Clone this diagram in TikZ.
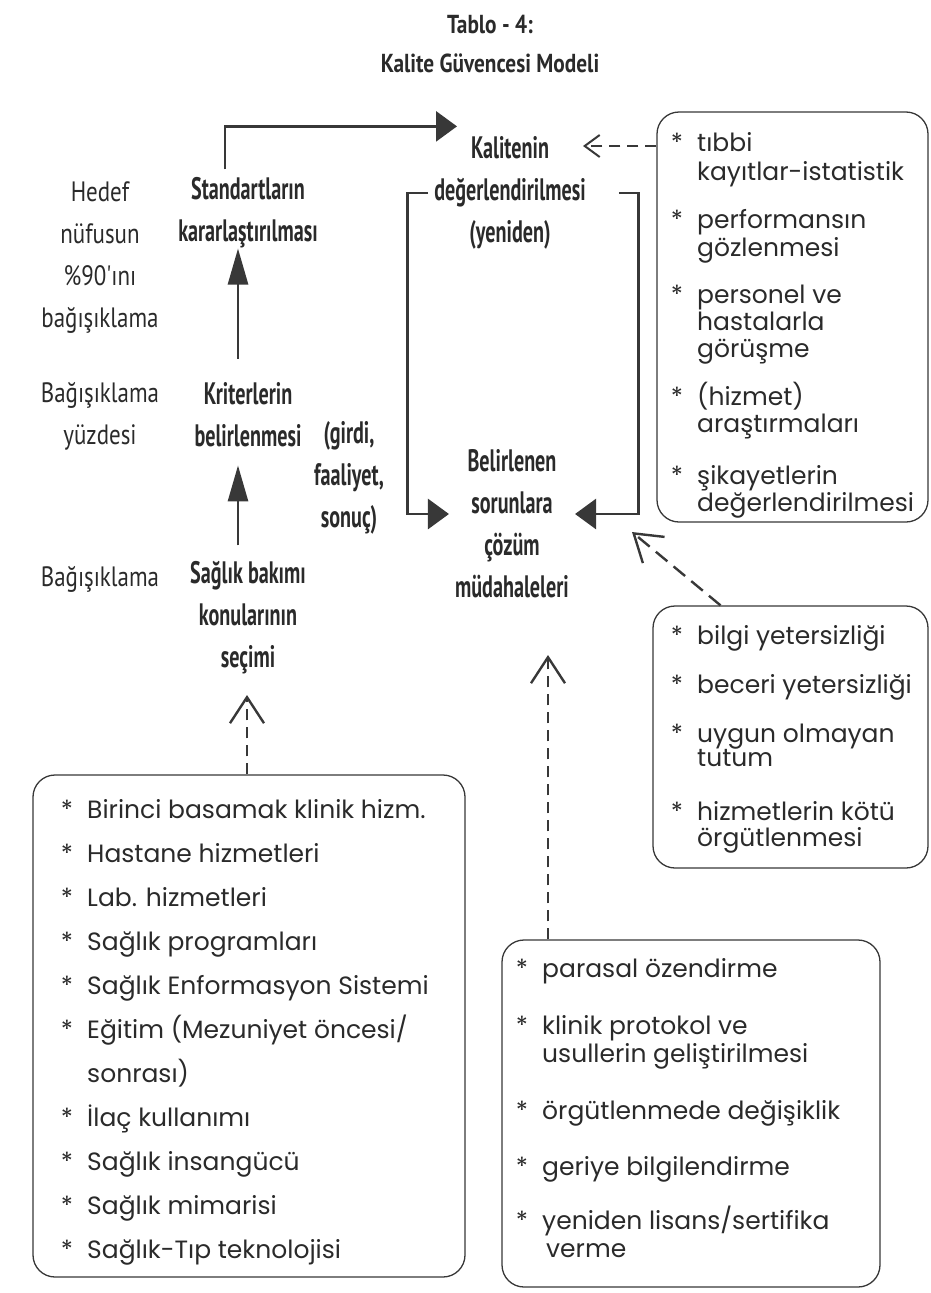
\documentclass[tikz,border=0pt]{standalone}
\usepackage{fontspec}
\setmainfont{Poppins}
\newfontfamily\condB[FakeStretch=0.65]{PT Sans}
\newfontfamily\condR[FakeStretch=0.82]{PT Sans}
\usetikzlibrary{arrows.meta}
\definecolor{ink}{HTML}{2A2A2A}
\definecolor{wire}{HTML}{383838}
\newcommand\fsT{\fontsize{26}{30}\selectfont}
\newcommand\fsM{\fontsize{31}{42}\selectfont}
\newcommand\fsS{\fontsize{28}{42}\selectfont}
\newcommand\fsL{\fontsize{25}{28}\selectfont}
% one list line with its asterisk, at a baseline
\newcommand\itm[4]{\node[ast] (#1a) at (#2-20,#3) {*}; \node[itm] (#1) at (#2,#3) {#4};}

\begin{document}
\begin{tikzpicture}[x=1pt,y=-1pt,
  title/.style={font=\fsT\condR\bfseries,text=ink,inner sep=0},
  lab/.style={align=center,font=\fsM\condB\bfseries,text=ink,inner xsep=6pt,inner ysep=8pt},
  side/.style={align=center,font=\fsS\condR,text=ink,inner sep=0},
  itm/.style={anchor=base west,font=\fsL,text=ink,inner sep=0},
  ast/.style={anchor=base,font=\fsL,text=ink,inner sep=0},
  box/.style={draw=wire,line width=1.3pt,rounded corners=22pt,inner sep=0},
  flowv/.style={draw=wire,line width=2.8pt,-{Triangle[length=36pt,width=20pt]}},
  flowh/.style={draw=wire,line width=2.8pt,-{Triangle[length=21pt,width=30pt]}},
  hint/.style={draw=wire,line width=2.4pt,dash pattern=on 11pt off 7pt,
    -{Straight Barb[length=26pt,width=34pt,line width=2.4pt]}},
  hintS/.style={hint,-{Straight Barb[length=15pt,width=22pt,line width=2pt]}}]
\useasboundingbox (0,0) rectangle (931,1293);
% ============ title ============
\node[title] (tab) at (490,25) {Tablo - 4:};
\node[title] (mod) at (490,63) {Kalite Güvencesi Modeli};
% ============ main flow ============
\node[lab] (std) at (248,213) {Standartların\\kararlaştırılması};
\node[lab] (krit) at (248,415) {Kriterlerin\\belirlenmesi};
\node[lab] (sec) at (248,618) {Sağlık bakımı\\konularının\\seçimi};
\node[lab] (kal) at (510,193) {Kalitenin\\değerlendirilmesi\\(yeniden)};
\node[lab] (bel) at (512,524) {Belirlenen\\sorunlara\\çözüm\\müdahaleleri};
\node[lab] (gir) at (349,478) {(girdi,\\faaliyet,\\sonuç)};
% left column
\node[side] (hed) at (100,258) {Hedef\\nüfusun\\\%90'ını\\bağışıklama};
\node[side] (yuz) at (100,416) {Bağışıklama\\yüzdesi};
\node[side] (bag) at (100,579) {Bağışıklama};
\draw[flowv,shorten <=8pt,shorten >=10pt] ([xshift=-10pt]sec.north) -- ([xshift=-10pt]krit.south);
\draw[flowv,shorten <=16pt,shorten >=-8pt] ([xshift=-10pt]krit.north) -- ([xshift=-10pt]std.south);
\draw[flowh] ([xshift=-23pt]std.north) |- ([xshift=-53pt,yshift=2pt]kal.north);
\draw[flowh] (kal.west) -- ++(-21,0) |- ([yshift=10pt]bel.west);
\draw[flowh] ([xshift=27pt]kal.east) -- ++(20,0) |- ([yshift=10pt]bel.east);
% ============ boxes ============
\node[box,minimum width=271pt,minimum height=410pt] (olc) at (792.5,317) {};
\node[box,minimum width=275pt,minimum height=262pt] (ned) at (790.5,737) {};
\node[box,minimum width=378pt,minimum height=347pt] (coz) at (691,1113.5) {};
\node[box,minimum width=432pt,minimum height=502pt] (ala) at (249,1026) {};
% measurement
\itm{o1}{697}{151}{tıbbi}
\node[itm] (o1b) at (697,180) {kayıtlar-istatistik};
\itm{o2}{697}{228}{performansın}
\node[itm] (o2b) at (697,256) {gözlenmesi};
\itm{o3}{697}{303}{personel ve}
\node[itm] (o3b) at (697,330) {hastalarla};
\node[itm] (o3c) at (697,357) {görüşme};
\itm{o4}{697}{405}{(hizmet)}
\node[itm] (o4b) at (697,432) {araştırmaları};
\itm{o5}{697}{484}{şikayetlerin}
\node[itm] (o5b) at (697,511) {değerlendirilmesi};
% causes
\itm{n1}{697}{644}{bilgi yetersizliği}
\itm{n2}{697}{693}{beceri yetersizliği}
\itm{n3}{697}{742}{uygun olmayan}
\node[itm] (n3b) at (697,766) {tutum};
\itm{n4}{697}{820}{hizmetlerin kötü}
\node[itm] (n4b) at (697,846) {örgütlenmesi};
% solutions
\itm{c1}{542}{977}{parasal özendirme}
\itm{c2}{542}{1034}{klinik protokol ve}
\node[itm] (c2b) at (542,1062) {usullerin geliştirilmesi};
\itm{c3}{542}{1119}{örgütlenmede değişiklik}
\itm{c4}{542}{1175}{geriye bilgilendirme}
\itm{c5}{542}{1229}{yeniden lisans/sertifika}
\node[itm] (c5b) at (546,1257) {verme};
% care areas
\itm{a1}{87}{818}{Birinci basamak klinik hizm.}
\itm{a2}{87}{862}{Hastane hizmetleri}
\itm{a3}{87}{906}{Lab. hizmetleri}
\itm{a4}{87}{950}{Sağlık programları}
\itm{a5}{87}{994}{Sağlık Enformasyon Sistemi}
\itm{a6}{87}{1038}{Eğitim (Mezuniyet öncesi/}
\node[itm] (a6b) at (87,1082) {sonrası)};
\itm{a7}{87}{1126}{İlaç kullanımı}
\itm{a8}{87}{1170}{Sağlık insangücü}
\itm{a9}{87}{1214}{Sağlık mimarisi}
\itm{a10}{87}{1258}{Sağlık-Tıp teknolojisi}
% ============ dashed feeds ============
\coordinate (kalR) at (583,146);
\coordinate (belR) at (632,532);
\coordinate (secB) at (247,695);
\coordinate (belB) at (548,655);
\draw[hintS] (olc.west |- kalR) -- (kalR);
\draw[hint,dash pattern=on 15pt off 8pt] ([xshift=-70pt]ned.north) -- (belR);
\draw[hint] (ala.north -| secB) -- (secB);
\draw[hint] (coz.north -| belB) -- (belB);
\end{tikzpicture}
\end{document}
